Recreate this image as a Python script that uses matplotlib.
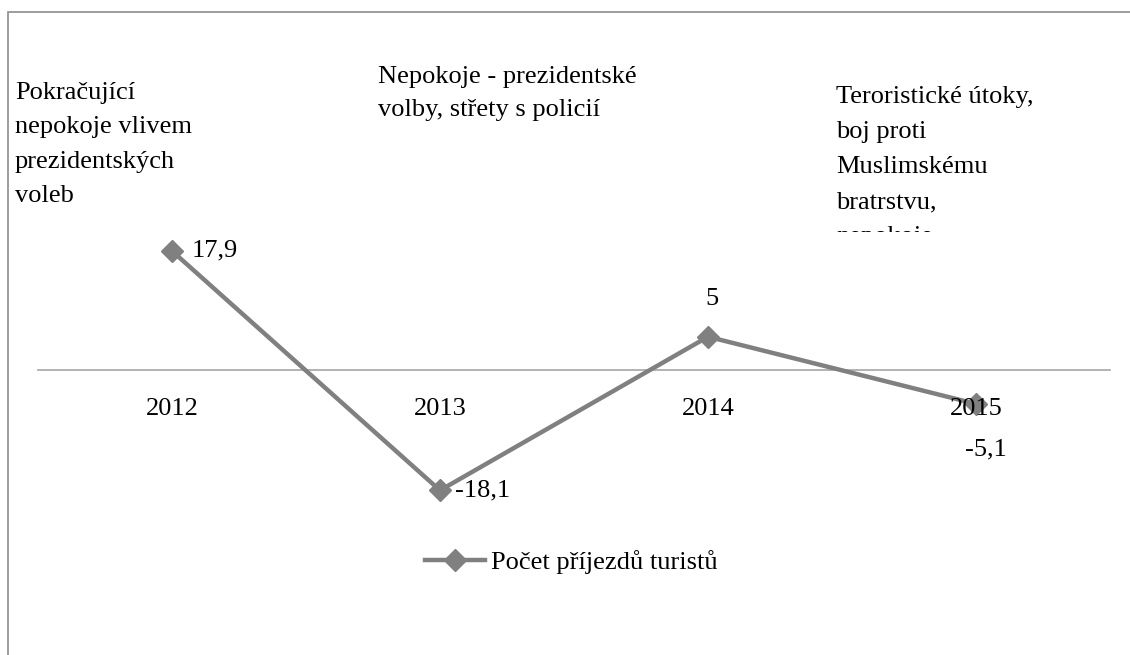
import numpy as np
import matplotlib.pyplot as plt
from matplotlib.patches import Rectangle

plt.rcParams['font.family'] = ['Liberation Serif', 'DejaVu Serif']

years = ['2012', '2013', '2014', '2015']
arrivals = [17.9, -18.1, 5, -5.1]
value_labels = ['17,9', '-18,1', '5', '-5,1']
series_name = 'Počet příjezdů turistů'

notes_left = ['Pokračující', 'nepokoje vlivem', 'prezidentských', 'voleb']
notes_mid = ['Nepokoje - prezidentské', 'volby, střety s policií']
notes_right = ['Teroristické útoky,', 'boj proti', 'Muslimskému', 'bratrstvu,', 'nepokoje']

W, H = 1130, 655
fs = 19
grey = '#808080'

fig = plt.figure(figsize=(W / 100, H / 100), dpi=100)

# chart frame (only top and left edges visible)
fig.patches.append(Rectangle((8 / W, -0.1), 1.2, (H - 12) / H + 0.1,
                             transform=fig.transFigure, fill=False,
                             edgecolor='#8c8c8c', linewidth=1.2))

ax = fig.add_axes([38 / W, 1 - 536.25 / H, 1072 / W, 332.5 / H])
ax.set_xlim(-0.5, 3.5)
ax.set_ylim(-25, 25)
ax.patch.set_alpha(0)
ax.set_axisbelow(False)
for s in ['top', 'right', 'left']:
    ax.spines[s].set_visible(False)
ax.spines['bottom'].set_position(('data', 0))
ax.spines['bottom'].set_color('#a6a6a6')
ax.spines['bottom'].set_linewidth(1.2)
ax.spines['bottom'].set_zorder(0.5)
ax.set_yticks([])

x = np.arange(len(years))
ax.set_xticks(x)
ax.set_xticklabels(years, fontsize=fs)
ax.tick_params(axis='x', length=0, pad=20)
ax.xaxis.set_zorder(5)

ax.plot(x, arrivals, color=grey, linewidth=3.2, marker='D', markersize=11,
        label=series_name, zorder=1)

offsets = [(20, 1, 'left', 'center'), (15, 0, 'left', 'center'),
           (4, 27, 'center', 'bottom'), (10, -35, 'center', 'top')]
for xi, yi, lab, (dx, dy, ha, va) in zip(x, arrivals, value_labels, offsets):
    ax.annotate(lab, (xi, yi), xytext=(dx * 0.72, dy * 0.72), textcoords='offset points',
                ha=ha, va=va, fontsize=fs)

ax.legend(loc='center', bbox_to_anchor=(571 / W, 1 - 562 / H),
          bbox_transform=fig.transFigure, frameon=False, fontsize=fs,
          handlelength=2.3, handletextpad=0.2)


def note(lines, x0, y0, step=34.5, clip=None):
    for i, t in enumerate(lines):
        txt = fig.text(x0 / W, 1 - (y0 + i * step) / H, t, fontsize=fs,
                       ha='left', va='baseline')
        if clip is not None:
            txt.set_clip_path(clip)


note(notes_left, 15, 99)
note(notes_mid, 378, 83, step=33)
clip_box = Rectangle((800 / W, 1 - 232 / H), 330 / W, 180 / H,
                     transform=fig.transFigure, visible=False)
fig.patches.append(clip_box)
note(notes_right, 836, 103, step=35, clip=clip_box)

fig.savefig('out.png', dpi=100)
